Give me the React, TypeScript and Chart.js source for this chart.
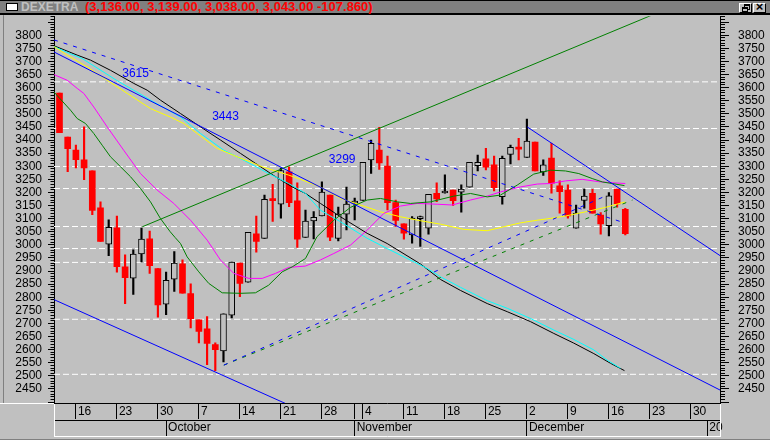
import React, { useEffect, useRef } from 'react';
import { Chart, registerables } from 'chart.js';
Chart.register(...registerables);

const FONT = '"Liberation Sans", Arial, sans-serif';

// Daily OHLC, one per trading day (index 0 = 12 Sep 2002)
const opens = [3579,3411,3362,3324,3282,3141,3003,3065,2916,2873,2965,3023,2909,2774,2869,2928,2814,2714,2680,2619,2595,2732,2930,2858,3042,3025,3176,3155,3279,3168,3028,3091,3110,3190,3025,3117,3159,3170,3324,3362,3301,3161,3080,3038,3100,3064,3197,3198,3209,3201,3220,3302,3328,3305,3184,3345,3371,3334,3392,3278,3331,3225,3209,3064,3170,3197,3114,3073,3213,3136];
const highs = [3579,3411,3381,3450,3282,3164,3095,3110,2962,2981,3064,3053,2909,2896,2974,2943,2851,2714,2726,2626,2737,2934,2930,3048,3110,3190,3231,3293,3298,3237,3133,3127,3240,3190,3144,3220,3178,3315,3400,3448,3339,3171,3080,3108,3110,3193,3237,3267,3209,3229,3315,3343,3368,3339,3339,3381,3406,3480,3392,3324,3387,3244,3229,3152,3213,3212,3123,3199,3213,3139];
const lows = [3428,3279,3294,3249,3115,3013,2959,2896,2776,2811,2935,2891,2724,2734,2822,2816,2683,2626,2543,2520,2553,2721,2802,2858,2972,3025,3089,3102,3146,2990,3028,3023,3110,3016,3015,3057,3095,3170,3273,3288,3133,3070,3022,3006,2994,3041,3165,3197,3150,3125,3220,3282,3286,3206,3155,3309,3324,3334,3282,3265,3197,3121,3102,3064,3140,3121,3041,3034,3144,3038];
const closes = [3428,3367,3325,3294,3131,3013,3067,2917,2875,2965,3022,2921,2771,2865,2930,2816,2718,2670,2624,2600,2737,2934,2853,3048,3013,3174,3169,3283,3161,3022,3091,3105,3201,3029,3117,3156,3166,3315,3387,3313,3161,3093,3045,3102,3103,3193,3175,3201,3169,3213,3315,3315,3296,3218,3330,3372,3365,3396,3282,3305,3235,3203,3110,3121,3186,3121,3080,3187,3156,3043];

// Moving averages: [day index, value]
const greenMA = [[-0.7,3584],[1.34,3514],[2.16,3482],[3.17,3463],[4.18,3425],[5.21,3380],[6.22,3336],[7.44,3298],[8.66,3260],[9.88,3215],[11.1,3164],[12.3,3101],[13.5,3050],[14.1,3028],[14.76,3005],[15.57,2954],[16.99,2897],[18.2,2853],[19.84,2817],[22.07,2815],[23.9,2817],[25.5,2846],[27.16,2897],[28.38,2916],[30,2948],[31.4,3031],[33.45,3094],[35.49,3143],[37.52,3171],[39.15,3177],[41.18,3164],[42.8,3158],[45.24,3164],[48.09,3186],[50.12,3196],[52.16,3183],[53.78,3190],[55.82,3228],[57.84,3270],[59.88,3285],[61.7,3282],[63.33,3272],[64.96,3253],[66.2,3240],[67.4,3234],[68.9,3226]];
const magentaMA = [[-0.7,3650],[0.94,3628],[2.16,3597],[2.96,3578],[4.18,3526],[5.82,3450],[7.83,3361],[9.88,3272],[11.91,3209],[13.94,3158],[15.98,3094],[18.01,3018],[19.63,2942],[21.26,2891],[23.09,2872],[24.72,2872],[26.34,2891],[27.96,2914],[29.98,2919],[31.8,2942],[33.45,2967],[35.49,2999],[37.52,3056],[39.55,3120],[41.59,3148],[43.62,3158],[46.06,3155],[47.89,3152],[50.12,3171],[52.16,3186],[53.78,3202],[56.22,3221],[58.26,3232],[59.88,3234],[61.71,3244],[63.74,3250],[65.77,3241],[67.4,3237],[69.0,3234]];
const yellowMA = [[-0.7,3757],[0.94,3724],[3.38,3679],[5.82,3628],[8.26,3578],[11.1,3520],[13.5,3488],[15.16,3463],[16.79,3425],[19.23,3368],[21.67,3336],[23.7,3311],[24.72,3298],[26.34,3282],[27.96,3266],[29.39,3250],[31.83,3221],[34.27,3177],[36.71,3152],[39.15,3126],[41.59,3107],[44.02,3092],[46.46,3079],[49.3,3059],[52.16,3054],[54.18,3069],[56.22,3084],[58.26,3094],[59.88,3101],[61.71,3110],[64.15,3126],[66.59,3143],[69.0,3164]];
const cyanMA = [[-0.7,3757],[1.5,3727],[2.77,3711],[6.95,3628],[10.43,3565],[11.1,3552],[14.76,3488],[17.2,3425],[20.04,3361],[22.48,3323],[25.52,3272],[27.96,3234],[30,3196],[31.83,3132],[34.27,3088],[37.52,3025],[39.96,2986],[42.4,2948],[44.84,2910],[46.46,2878],[48.9,2838],[52.16,2787],[54.6,2758],[57.44,2719],[60.28,2675],[62.72,2639],[65.16,2599],[66.79,2560],[68.41,2529]];
const blackMA = [[-0.7,3760],[2.16,3724],[3.78,3705],[6.22,3666],[9.06,3616],[10.7,3590],[12.32,3552],[14.76,3501],[17.2,3450],[19.63,3400],[22.07,3349],[23.9,3311],[26.34,3260],[28.38,3221],[30,3196],[31.83,3158],[34.27,3107],[37.52,3044],[39.96,3005],[44.02,2927],[46.46,2868],[48.9,2826],[52.16,2776],[54.6,2745],[57.44,2707],[60.28,2662],[62.72,2625],[65.16,2585],[67.2,2548],[68.9,2520]];

// Trend lines: [day index, value] end points
const blueLong = [[-0.67,3736],[80.55,2446]];
const blueLower = [[-0.67,2791],[27.6,2394]];
const blueDashDown = [[-0.67,3782],[68.9,3084]];
const blueDashUp = [[20.04,2541],[66.7,3188]];
const greenUp = [[10.1,3069],[72.5,3880]];
const greenDashUp = [[20.04,2541],[69.88,3171]];
const blueDec = [[57.04,3450],[80.55,2959]];

// Horizontal levels and their labels
const levels = [3622,3444,3299,3215,3070,2986,2933,2716,2506];
const levelTexts = ['3615','3443','3299'];
const levelTextIdx = [7.65,18.62,32.84];
const levelTextVals = [3641,3476,3311];

// Axis ticks
const weekTickIdx = [2,7,12,17,22,27,32,36,37,42,47,52,57,62,67,72,77];
const weekLabels = ['16','23','30','7','14','21','28','','4','11','18','25','2','9','16','23','30'];
const monthTickIdx = [13,36,57,79];
const monthLabels = ['October','November','December','20'];

const X_MIN = -0.67, X_MAX = 80.55;
const Y_MIN = 2396.5, Y_MAX = 3872.5;

const range = (a: number, b: number, s: number) => { const r: number[] = []; for (let v = a; v <= b + 1e-9; v += s) r.push(v); return r; };
const yLabel = (v: any) => (v % 50 === 0 && v >= 2450 && v <= 3800) ? String(v) : '';

export default function App() {
  const ref = useRef<HTMLCanvasElement>(null);
  useEffect(() => {
    document.body.style.margin = '0';
    Chart.defaults.font.family = FONT;
    const pts = (a: number[][]) => a.map(([x, y]) => ({ x, y }));
    const up = opens.map((o, i) => closes[i] >= o);
    const line = (data: number[][], color: string, dash: number[] = []) => ({
      type: 'line' as const, data: pts(data), borderColor: color, borderWidth: 1, borderDash: dash,
      pointRadius: 0, fill: false, tension: 0, yAxisID: 'y', xAxisID: 'x',
    });
    const levelSets = levels.map(v => line([[X_MIN, v], [X_MAX, v]], '#ffffff', [6, 3]));
    const datasets: any[] = [
      line(blueLong, '#0000ff'),
      line(blueLower, '#0000ff'),
      line(blueDec, '#0000ff'),
      line(blueDashDown, '#0000ff', [4, 6]),
      line(blueDashUp, '#0000ff', [4, 6]),
      line(greenUp, '#008000'),
      line(greenDashUp, '#008000', [4, 6]),
      line(greenMA, '#008000'),
      line(magentaMA, '#ff00ff'),
      line(yellowMA, '#ffff00'),
      line(cyanMA, '#00ffff'),
      line(blackMA, '#000000'),
      {
        type: 'bar', data: opens.map((o, i) => ({ x: i, y: [o, closes[i]] })),
        backgroundColor: up.map(u => u ? '#c0c0c0' : '#ff0000'),
        borderColor: up.map(u => u ? '#000000' : '#ff0000'),
        borderWidth: up.map(u => u ? 1 : 0),
        borderSkipped: false, barThickness: 6, grouped: false, minBarLength: 2,
        yAxisID: 'y', xAxisID: 'x',
      },
      {
        type: 'bar', data: opens.map((o, i) => ({ x: i, y: [lows[i], highs[i]] })),
        backgroundColor: up.map(u => u ? '#000000' : '#ff0000'),
        borderWidth: 0, barThickness: 1.5, grouped: false,
        yAxisID: 'y', xAxisID: 'x',
      },
      ...levelSets,
    ];

    const deco = {
      id: 'deco',
      afterDatasetsDraw(chart: any) {
        const { ctx, chartArea: a } = chart;
        const xs = chart.scales.x, ys = chart.scales.y;
        ctx.save();
        ctx.beginPath();
        ctx.rect(a.left, a.top, a.right - a.left, a.bottom - a.top);
        ctx.clip();
        ctx.fillStyle = '#0000ff';
        ctx.font = '12px ' + FONT;
        ctx.textBaseline = 'alphabetic';
        ctx.textAlign = 'left';
        levelTexts.forEach((t, i) => ctx.fillText(t, xs.getPixelForValue(levelTextIdx[i]), ys.getPixelForValue(levelTextVals[i])));
        ctx.restore();
      },
      afterDraw(chart: any) {
        const { ctx, chartArea: a } = chart;
        ctx.save();
        ctx.lineWidth = 1;
        ctx.strokeStyle = '#ffffff';
        ctx.beginPath();
        ctx.moveTo(0, a.bottom + 0.5); ctx.lineTo(a.left, a.bottom + 0.5);
        ctx.moveTo(a.left + 0.5, a.bottom + 1); ctx.lineTo(a.left + 0.5, a.bottom + 34);
        ctx.moveTo(a.right + 0.5, a.bottom + 1); ctx.lineTo(a.right + 0.5, a.bottom + 34);
        ctx.moveTo(a.left, a.bottom + 33.5); ctx.lineTo(a.right + 1, a.bottom + 33.5);
        ctx.stroke();
        ctx.strokeStyle = '#808080';
        ctx.beginPath();
        ctx.moveTo(3.5, a.top - 1); ctx.lineTo(3.5, a.bottom);
        ctx.moveTo(0, 439.5); ctx.lineTo(770, 439.5);
        ctx.stroke();
        ctx.restore();
      },
    };

    const tickFont = { family: FONT, size: 12 };
    const yMinor = (pos: 'left' | 'right', tl: number) => ({
      type: 'linear', position: pos, min: Y_MIN, max: Y_MAX, weight: 0,
      afterFit: (s: any) => { s.width = 0; },
      afterBuildTicks: (s: any) => { s.ticks = range(2400, 3870, 10).map(v => ({ value: v })); },
      ticks: { display: false },
      grid: { drawOnChartArea: false, tickLength: tl, tickColor: '#000', color: '#000' },
      border: { display: true, color: '#000', width: 1 },
    });
    const yMajor = (pos: 'left' | 'right', tl: number, pad: number, w: number) => ({
      type: 'linear', position: pos, min: Y_MIN, max: Y_MAX, weight: 1,
      afterFit: (s: any) => { s.width = w; },
      afterBuildTicks: (s: any) => { s.ticks = range(2400, 3850, 50).map(v => ({ value: v })); },
      ticks: { autoSkip: false, callback: yLabel, padding: pad, color: '#000', font: tickFont },
      grid: { drawOnChartArea: false, tickLength: tl, tickColor: '#000', color: '#000' },
      border: { display: false },
    });
    const xAxis = (weight: number, idx: number[], labels: string[], pad: number) => ({
      type: 'linear', position: 'bottom', min: X_MIN, max: X_MAX, weight, offset: false,
      afterFit: (s: any) => { s.height = 17; },
      afterBuildTicks: (s: any) => { s.ticks = idx.map(v => ({ value: v })); },
      ticks: {
        autoSkip: false, maxRotation: 0, minRotation: 0, align: 'start', labelOffset: 2, padding: pad,
        color: '#000', font: tickFont,
        callback: (v: any) => { const k = idx.indexOf(v); return k >= 0 ? labels[k] : ''; },
      },
      grid: { offset: false, drawOnChartArea: false, tickLength: 16, color: '#000', tickColor: '#000' },
      border: { display: true, color: '#000', width: 1 },
    });

    const chart = new Chart(ref.current as HTMLCanvasElement, {
      type: 'bar',
      data: { datasets },
      plugins: [deco],
      options: {
        responsive: false, animation: false, devicePixelRatio: 1, events: [],
        layout: { padding: { top: 16, bottom: 3, left: 0, right: 0 } },
        plugins: { legend: { display: false }, tooltip: { enabled: false } },
        scales: {
          x: xAxis(0, weekTickIdx, weekLabels, -15),
          x2: xAxis(1, monthTickIdx, monthLabels, -16),
          y: yMinor('left', 3.5),
          yl: yMajor('left', 6, 6, 54),
          yr: yMinor('right', 5),
          yr2: yMajor('right', 9, 9, 50),
        } as any,
      },
    } as any);
    return () => chart.destroy();
  }, []);

  const btn: React.CSSProperties = {
    position: 'absolute', top: 2, width: 13, height: 10, boxSizing: 'border-box', background: '#c0c0c0',
    borderStyle: 'solid', borderWidth: 1, borderColor: '#ffffff #000000 #000000 #ffffff',
  };
  return (
    <div style={{ position: 'relative', width: 770, height: 440, background: '#c0c0c0', overflow: 'hidden', fontFamily: FONT }}>
      <canvas ref={ref} width={770} height={440} style={{ position: 'absolute', left: 0, top: 0, width: 770, height: 440 }} />
      <div style={{ position: 'absolute', left: 0, top: 0, width: 770, height: 12, background: '#808080', borderTop: '1px solid #000', borderBottom: '2px solid #000' }}>
        <div style={{ position: 'absolute', left: 6, top: 2, width: 10, height: 6, background: '#fff', border: '1px solid #000' }} />
        <span style={{ position: 'absolute', left: 21, top: -1, fontWeight: 'bold', fontSize: 12, lineHeight: '14px', color: '#c0c0c0', whiteSpace: 'nowrap' }}>DEXETRA</span>
        <span style={{ position: 'absolute', left: 85, top: -1, fontWeight: 'bold', fontSize: 13, lineHeight: '14px', color: '#ff0000', whiteSpace: 'nowrap' }}>(3,136.00, 3,139.00, 3,038.00, 3,043.00 -107.860)</span>
        <div style={{ ...btn, left: 739 }}>
          <div style={{ position: 'absolute', left: 4, top: 0, width: 4, height: 3, borderStyle: 'solid', borderColor: '#000', borderWidth: '2px 1px 1px 1px' }} />
          <div style={{ position: 'absolute', left: 2, top: 3, width: 4, height: 2, background: '#c0c0c0', borderStyle: 'solid', borderColor: '#000', borderWidth: '2px 1px 1px 1px' }} />
        </div>
        <div style={{ ...btn, left: 753, textAlign: 'center' }}>
          <span style={{ position: 'absolute', left: 0, right: 0, top: -4, fontSize: 13, fontWeight: 'bold', lineHeight: '14px', color: '#000' }}>×</span>
        </div>
      </div>
    </div>
  );
}
